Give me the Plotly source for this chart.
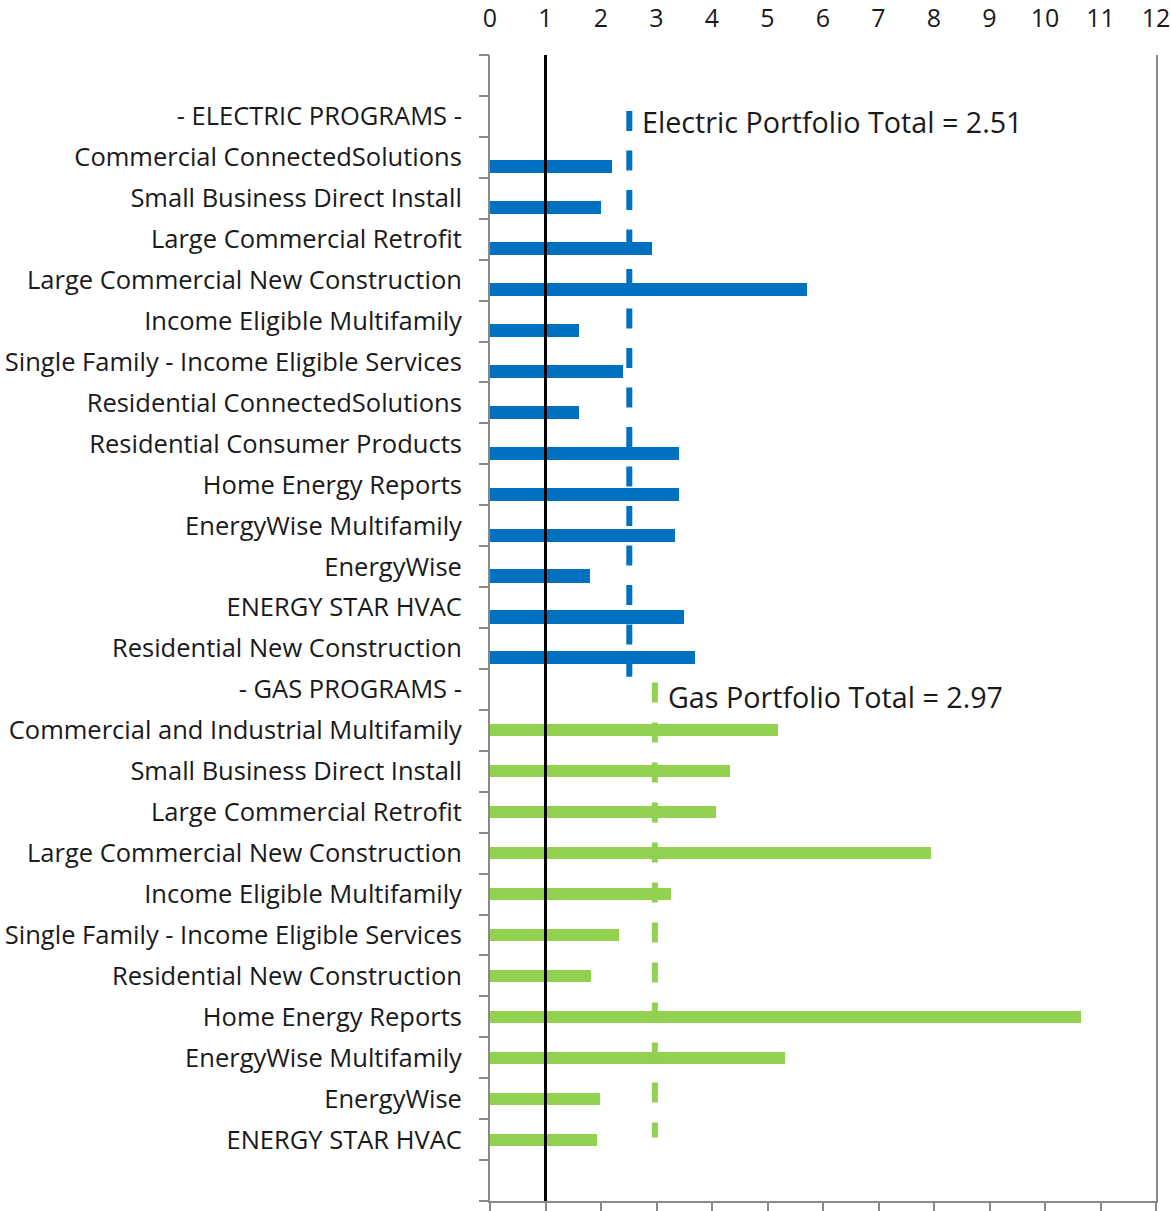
import plotly.graph_objects as go

# ---------------- data ----------------
electric_programs = [
    "Commercial ConnectedSolutions",
    "Small Business Direct Install",
    "Large Commercial Retrofit",
    "Large Commercial New Construction",
    "Income Eligible Multifamily",
    "Single Family - Income Eligible Services",
    "Residential ConnectedSolutions",
    "Residential Consumer Products",
    "Home Energy Reports",
    "EnergyWise Multifamily",
    "EnergyWise",
    "ENERGY STAR HVAC",
    "Residential New Construction",
]
electric_values = [2.20, 2.00, 2.92, 5.72, 1.60, 2.40, 1.60, 3.40, 3.40, 3.33, 1.80, 3.50, 3.69]

gas_programs = [
    "Commercial and Industrial Multifamily",
    "Small Business Direct Install",
    "Large Commercial Retrofit",
    "Large Commercial New Construction",
    "Income Eligible Multifamily",
    "Single Family - Income Eligible Services",
    "Residential New Construction",
    "Home Energy Reports",
    "EnergyWise Multifamily",
    "EnergyWise",
    "ENERGY STAR HVAC",
]
gas_values = [5.19, 4.32, 4.07, 7.95, 3.26, 2.32, 1.82, 10.65, 5.32, 1.98, 1.92]

electric_header = "- ELECTRIC PROGRAMS -"
gas_header = "- GAS PROGRAMS -"
electric_total = 2.51
gas_total = 2.97
benchmark = 1
x_ticks = list(range(0, 13))

# ---------------- layout of rows ----------------
labels = [""] + [electric_header] + electric_programs + [gas_header] + gas_programs + [""]
n_rows = len(labels)
rows = list(range(n_rows))
e_header_row = 1
e_rows = rows[2:2 + len(electric_programs)]
g_header_row = e_rows[-1] + 1
g_rows = rows[g_header_row + 1:g_header_row + 1 + len(gas_programs)]

BLUE = "#0070C0"
GREEN = "#92D050"
AXIS = "#898989"
TEXT = "#1a1a1a"
FONT = "Open Sans"

fig = go.Figure()

fig.add_trace(go.Bar(
    x=electric_values, y=e_rows, orientation="h",
    width=0.32, offset=0.07, marker=dict(color=BLUE, line=dict(width=0)),
    showlegend=False, hoverinfo="x",
))
fig.add_trace(go.Bar(
    x=gas_values, y=g_rows, orientation="h",
    width=0.29, offset=-0.145, marker=dict(color=GREEN, line=dict(width=0)),
    showlegend=False, hoverinfo="x",
))

# portfolio total dashed lines
fig.add_trace(go.Scatter(
    x=[electric_total, electric_total],
    y=[e_header_row - 0.13, e_rows[-1] + 0.69],
    mode="lines", line=dict(color=BLUE, width=6, dash="20px,19.5px"),
    showlegend=False, hoverinfo="skip",
))
fig.add_trace(go.Scatter(
    x=[gas_total, gas_total],
    y=[g_header_row - 0.17, g_rows[-1] - 0.05],
    mode="lines", line=dict(color=GREEN, width=6, dash="20px,20px"),
    showlegend=False, hoverinfo="skip",
))

# invisible trace to activate secondary axes (top labels, boundary ticks)
fig.add_trace(go.Scatter(
    x=[0, 12], y=[rows[0], rows[-1]], xaxis="x2", yaxis="y2",
    mode="markers", marker=dict(opacity=0), showlegend=False, hoverinfo="skip",
))

fig.add_shape(type="line", xref="x", yref="paper", x0=benchmark, x1=benchmark,
              y0=0, y1=1, line=dict(color="black", width=3), layer="above")

fig.add_annotation(x=electric_total, y=e_header_row, xref="x", yref="y",
                   text=f"Electric Portfolio Total = {electric_total:.2f}",
                   showarrow=False, xanchor="left", yanchor="middle",
                   xshift=11, yshift=-5, font=dict(family=FONT, size=28.7, color=TEXT))
fig.add_annotation(x=gas_total, y=g_header_row, xref="x", yref="y",
                   text=f"Gas Portfolio Total = {gas_total:.2f}",
                   showarrow=False, xanchor="left", yanchor="middle",
                   xshift=11, yshift=-7, font=dict(family=FONT, size=28.7, color=TEXT))

yrange = [rows[-1] + 0.5, rows[0] - 0.5]
boundaries = [r - 0.5 for r in rows] + [rows[-1] + 0.5]

fig.update_layout(
    width=1171, height=1211,
    margin=dict(l=490, r=15, t=55, b=10, autoexpand=False),
    paper_bgcolor="white", plot_bgcolor="white",
    font=dict(family=FONT, size=25, color=TEXT),
    bargap=0,
    xaxis=dict(range=[0, 12], showgrid=False, zeroline=False, automargin=False,
               showline=True, linecolor=AXIS, linewidth=2,
               ticks="outside", ticklen=10, tickcolor=AXIS, tickwidth=2,
               tickvals=x_ticks, showticklabels=False),
    xaxis2=dict(overlaying="x", matches="x", side="top", range=[0, 12], automargin=False,
                showgrid=False, zeroline=False, showline=False,
                tickvals=x_ticks, ticks="", ticklabelstandoff=22,
                tickfont=dict(family=FONT, size=25, color=TEXT)),
    yaxis=dict(range=yrange, showgrid=False, zeroline=False, automargin=False,
               showline=True, linecolor=AXIS, linewidth=2, mirror=True,
               tickvals=rows, ticktext=labels, ticks="",
               ticklabelstandoff=21,
               tickfont=dict(family=FONT, size=25.5, color=TEXT)),
    yaxis2=dict(overlaying="y", matches="y", range=yrange, side="left", automargin=False,
                showgrid=False, zeroline=False, showline=False,
                tickvals=boundaries, ticks="outside", ticklen=10,
                tickcolor=AXIS, tickwidth=2, showticklabels=False),
)

fig.write_html(
    "out.html",
    config={"displayModeBar": False},
    post_script="document.body.style.margin='0px';document.body.style.overflow='hidden';",
)
